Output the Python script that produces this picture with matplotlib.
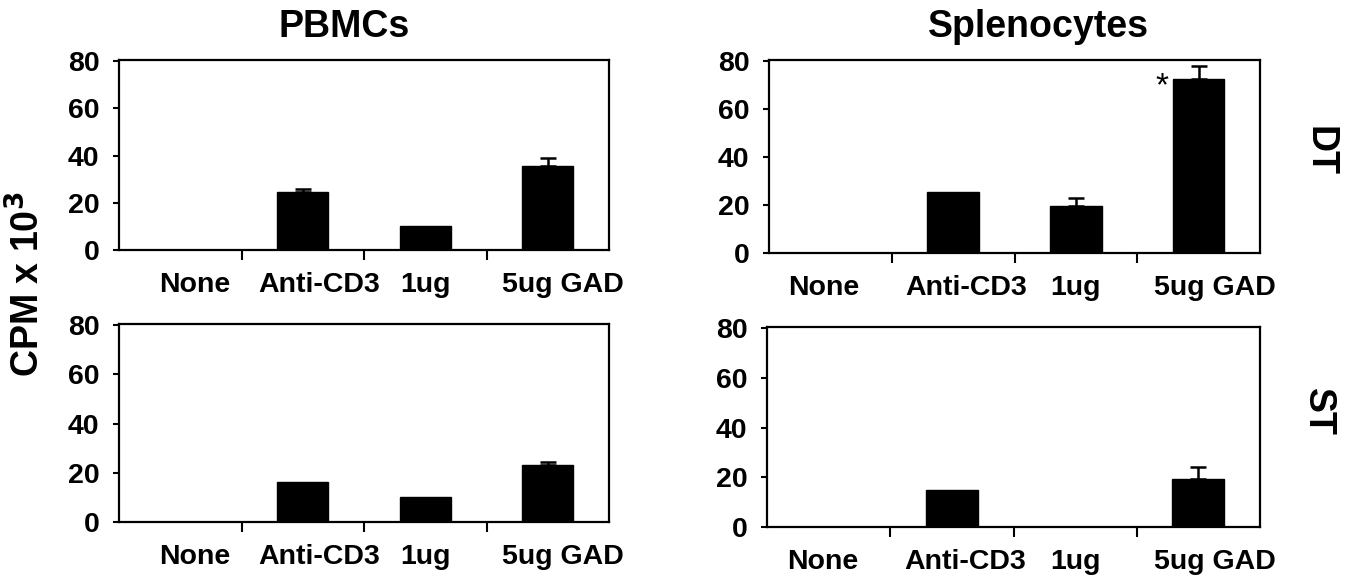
import numpy as np
import matplotlib.pyplot as plt
from matplotlib.ticker import FixedLocator, NullFormatter

categories = ['None', 'Anti-CD3', '1ug', '5ug GAD']

pbmc_dt = [0, 24.7, 10.3, 35.6]
pbmc_dt_err = [0, 1.0, 0, 3.3]
spleen_dt = [0, 25.6, 19.5, 72.4]
spleen_dt_err = [0, 0, 3.4, 5.6]
pbmc_st = [0, 16.2, 10.0, 23.2]
pbmc_st_err = [0, 0, 0, 1.3]
spleen_st = [0, 14.7, 0, 19.3]
spleen_st_err = [0, 0, 0, 5.0]

yticks = [0, 20, 40, 60, 80]

FONT = ['Liberation Sans', 'Arial', 'DejaVu Sans']
plt.rcParams['font.family'] = FONT

W, H = 1352, 585
fig = plt.figure(figsize=(W / 100, H / 100), dpi=100)


def add_axes(left, top, right, bottom):
    return fig.add_axes([left / W, 1 - bottom / H, (right - left) / W, (bottom - top) / H])


# (axes box in pixels, values, errors, label offsets in category units)
panels = [
    ((119, 60, 609, 250), pbmc_dt, pbmc_dt_err, [0.12, 0.13, 0.0, 0.12]),
    ((769, 60, 1260, 253), spleen_dt, spleen_dt_err, [-0.05, 0.11, 0.0, 0.13]),
    ((119, 324, 609, 522), pbmc_st, pbmc_st_err, [0.12, 0.13, 0.0, 0.12]),
    ((767, 327, 1260, 527), spleen_st, spleen_st_err, [-0.05, 0.11, 0.0, 0.13]),
]

axes = []
for box, vals, errs, offs in panels:
    ax = add_axes(*box)
    x = np.arange(len(categories))
    lower = np.zeros(len(errs))
    ax.bar(x, vals, width=0.42, color='black', edgecolor='black', zorder=2)
    show = np.array(errs) > 0
    ax.errorbar(x[show], np.array(vals)[show],
                yerr=[lower[show], np.array(errs)[show]],
                fmt='none', ecolor='black', elinewidth=1.8, capsize=6, capthick=1.8, zorder=3)
    ax.set_xlim(-0.5, 3.5)
    ax.set_ylim(0, 80.5)
    ax.set_yticks(yticks)
    ax.set_yticklabels([str(t) for t in yticks], fontsize=20.5, fontweight='bold')
    ax.xaxis.set_major_locator(FixedLocator([0.5, 1.5, 2.5]))
    ax.xaxis.set_major_formatter(NullFormatter())
    ax.xaxis.set_minor_locator(FixedLocator(x + np.array(offs)))
    ax.set_xticklabels(categories, minor=True, fontsize=20.5, fontweight='bold')
    ax.tick_params(axis='x', which='major', direction='out', length=7, width=1.5)
    ax.tick_params(axis='x', which='minor', length=0, pad=16)
    ax.tick_params(axis='y', direction='out', length=4, width=1.5, pad=10)
    for s in ax.spines.values():
        s.set_linewidth(1.6)
    axes.append(ax)

# significance marker
axes[1].text(3 - 0.3, spleen_dt[3] - 3, '*', fontsize=24, ha='center', va='center')

fig.text(344 / W, 1 - 27 / H, 'PBMCs', fontsize=27, fontweight='bold', ha='center', va='center')
fig.text(1038 / W, 1 - 27 / H, 'Splenocytes', fontsize=27, fontweight='bold', ha='center', va='center')
fig.text(28 / W, 1 - 284 / H, r'CPM x 10$^\mathbf{3}$', fontsize=27, fontweight='bold',
         rotation=90, ha='center', va='center')
fig.text(1319 / W, 1 - 151 / H, 'DT', fontsize=27, fontweight='bold', rotation=270, ha='center', va='center')
fig.text(1318 / W, 1 - 412 / H, 'ST', fontsize=27, fontweight='bold', rotation=270, ha='center', va='center')

fig.savefig('out.png', dpi=100)
